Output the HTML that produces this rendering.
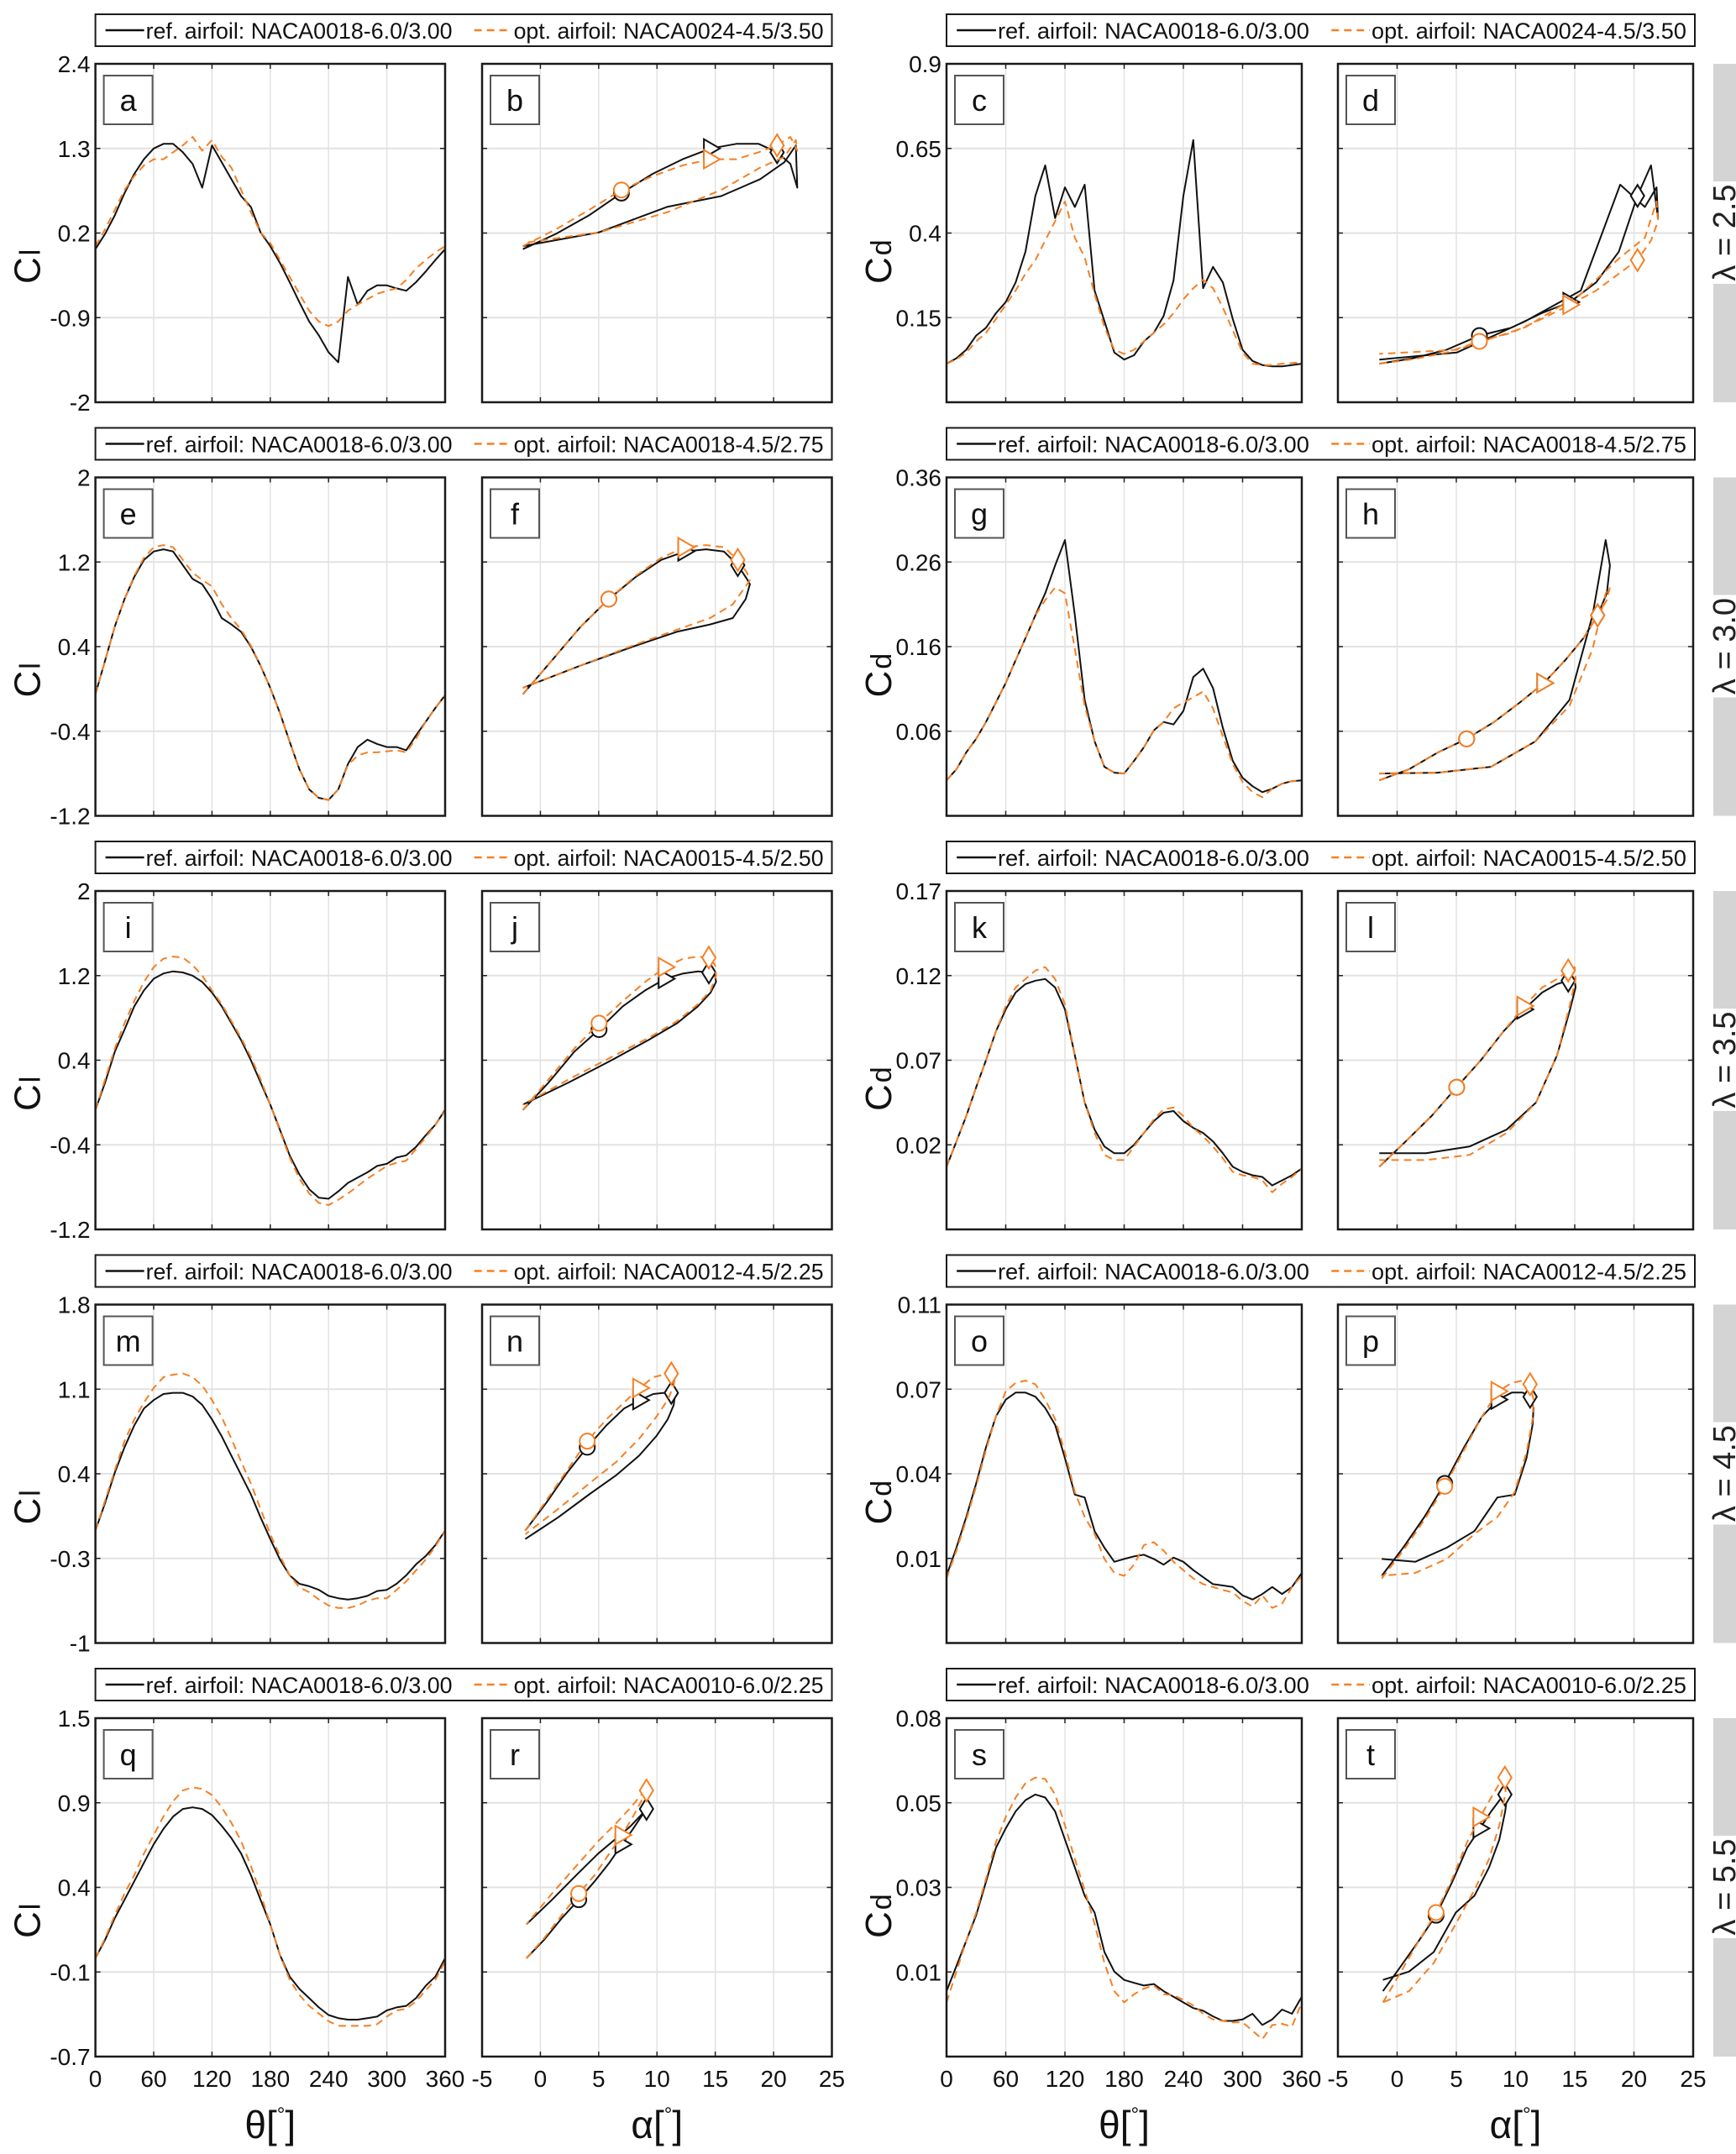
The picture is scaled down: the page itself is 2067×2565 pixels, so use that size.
<!DOCTYPE html>
<html><head><meta charset="utf-8"><style>
html,body{margin:0;padding:0;background:#fff;}
svg{display:block;font-family:"Liberation Sans",Arial,sans-serif;}
</style></head><body>
<svg id="fig" xmlns="http://www.w3.org/2000/svg" width="2067" height="2565" viewBox="0 0 2067 2565"></svg>
<script>
// ---- data ----
const theta = [0,10,20,30,40,50,60,70,80,90,100,110,120,130,140,150,160,170,180,190,200,210,220,230,240,250,260,270,280,290,300,310,320,330,340,350,360];
const optNames = ['NACA0024-4.5/3.50','NACA0018-4.5/2.75','NACA0015-4.5/2.50','NACA0012-4.5/2.25','NACA0010-6.0/2.25'];
const lambdas = ['2.5','3.0','3.5','4.5','5.5'];
const thetaTicks = [0,60,120,180,240,300,360];
const alphaTicks = [-5,0,5,10,15,20,25];
const markerIdx = [3,6,9];

const alpha1 = [-1.5,1.35,4.18,6.95,9.63,12.2,14.6,16.8,18.72,20.3,21.44,22.03,21.91,20.92,18.84,15.51,10.86,5.04,-1.5];
const alpha2 = [-1.5,0.99,3.46,5.87,8.19,10.37,12.4,14.2,15.74,16.93,17.71,17.97,17.61,16.5,14.55,11.69,7.93,3.42,-1.5];
const alpha3 = [-1.5,0.72,2.91,5.03,7.07,8.98,10.72,12.25,13.51,14.45,14.99,15.07,14.6,13.51,11.73,9.25,6.11,2.45,-1.5];
const alpha4 = [-1.3,0.51,2.3,4.02,5.66,7.17,8.53,9.68,10.6,11.23,11.52,11.44,10.92,9.93,8.47,6.53,4.19,1.53,-1.3];
const alpha5 = [-1.2,0.33,1.84,3.29,4.66,5.91,7.01,7.94,8.65,9.1,9.27,9.13,8.63,7.76,6.53,4.96,3.09,1.0,-1.2];

const clRef1 = [-0.01,0.19,0.43,0.72,0.97,1.16,1.30,1.36,1.36,1.25,1.1,0.79,1.34,1.12,0.90,0.68,0.54,0.21,0.03,-0.19,-0.44,-0.70,-0.95,-1.13,-1.35,-1.48,-0.37,-0.73,-0.55,-0.48,-0.48,-0.52,-0.55,-0.44,-0.30,-0.15,-0.01];
const clOpt1 = [0.03,0.25,0.5,0.76,0.94,1.08,1.16,1.16,1.25,1.34,1.45,1.27,1.41,1.19,1.05,0.76,0.47,0.21,0.07,-0.15,-0.37,-0.59,-0.81,-0.95,-1.01,-0.95,-0.81,-0.73,-0.66,-0.59,-0.55,-0.52,-0.41,-0.26,-0.15,-0.05,0.03];
const cdRef1 = [0.014,0.03,0.055,0.097,0.12,0.163,0.196,0.254,0.345,0.51,0.6,0.444,0.535,0.477,0.543,0.23,0.14,0.047,0.026,0.039,0.08,0.105,0.155,0.26,0.51,0.675,0.237,0.30,0.254,0.146,0.055,0.022,0.01,0.006,0.006,0.01,0.014];
const cdOpt1 = [0.014,0.027,0.047,0.08,0.105,0.146,0.188,0.23,0.28,0.32,0.378,0.435,0.493,0.386,0.328,0.22,0.122,0.055,0.043,0.055,0.08,0.105,0.13,0.163,0.204,0.237,0.262,0.237,0.18,0.113,0.047,0.014,0.01,0.01,0.014,0.016,0.018];

const clRef2 = [-0.05,0.27,0.59,0.85,1.06,1.22,1.30,1.32,1.30,1.17,1.04,0.99,0.85,0.67,0.61,0.54,0.40,0.22,0.01,-0.23,-0.50,-0.76,-0.95,-1.03,-1.05,-0.95,-0.71,-0.55,-0.48,-0.52,-0.55,-0.55,-0.58,-0.44,-0.31,-0.18,-0.06];
const clOpt2 = [-0.05,0.27,0.59,0.85,1.07,1.24,1.34,1.36,1.34,1.22,1.10,1.03,0.97,0.80,0.67,0.56,0.41,0.22,0.01,-0.23,-0.50,-0.76,-0.95,-1.03,-1.05,-0.95,-0.72,-0.63,-0.60,-0.60,-0.59,-0.58,-0.60,-0.47,-0.31,-0.18,-0.06];
const cdRef2 = [0.002,0.015,0.035,0.051,0.071,0.094,0.117,0.144,0.17,0.197,0.223,0.256,0.286,0.197,0.097,0.048,0.018,0.011,0.01,0.025,0.041,0.061,0.071,0.068,0.084,0.124,0.134,0.111,0.064,0.025,0.005,-0.005,-0.012,-0.008,-0.002,0.001,0.002];
const cdOpt2 = [0.002,0.015,0.035,0.051,0.071,0.094,0.117,0.144,0.17,0.197,0.215,0.23,0.223,0.157,0.09,0.048,0.018,0.011,0.01,0.025,0.041,0.061,0.071,0.087,0.094,0.1,0.107,0.087,0.054,0.021,0.0,-0.012,-0.018,-0.008,-0.002,0.001,0.002];

const clRef3 = [-0.07,0.19,0.48,0.69,0.91,1.06,1.17,1.22,1.24,1.23,1.20,1.14,1.04,0.91,0.75,0.59,0.40,0.19,-0.02,-0.26,-0.50,-0.68,-0.82,-0.90,-0.91,-0.84,-0.76,-0.71,-0.66,-0.60,-0.58,-0.52,-0.50,-0.42,-0.31,-0.21,-0.07];
const clOpt3 = [-0.07,0.22,0.51,0.75,0.96,1.14,1.28,1.36,1.38,1.37,1.30,1.20,1.06,0.93,0.77,0.61,0.43,0.22,-0.02,-0.27,-0.52,-0.72,-0.86,-0.95,-0.97,-0.92,-0.86,-0.79,-0.72,-0.66,-0.60,-0.57,-0.55,-0.44,-0.33,-0.21,-0.08];
const cdRef3 = [0.007,0.022,0.037,0.054,0.070,0.087,0.10,0.11,0.115,0.117,0.118,0.113,0.10,0.073,0.045,0.029,0.019,0.015,0.015,0.02,0.027,0.034,0.039,0.04,0.034,0.030,0.027,0.022,0.015,0.007,0.004,0.002,0.001,-0.004,-0.001,0.002,0.006];
const cdOpt3 = [0.007,0.022,0.037,0.054,0.070,0.087,0.102,0.113,0.118,0.123,0.125,0.118,0.103,0.073,0.045,0.027,0.014,0.011,0.011,0.019,0.027,0.035,0.041,0.042,0.037,0.030,0.025,0.019,0.012,0.004,0.002,0.001,-0.001,-0.008,-0.003,0.001,0.006];

const clRef4 = [-0.07,0.16,0.41,0.62,0.80,0.94,1.01,1.06,1.07,1.07,1.04,0.97,0.85,0.71,0.55,0.39,0.23,0.04,-0.14,-0.31,-0.44,-0.51,-0.53,-0.56,-0.61,-0.63,-0.64,-0.63,-0.61,-0.57,-0.56,-0.51,-0.44,-0.35,-0.28,-0.19,-0.07];
const clOpt4 = [-0.07,0.18,0.43,0.67,0.85,0.99,1.11,1.20,1.22,1.23,1.20,1.13,1.01,0.87,0.69,0.50,0.32,0.11,-0.10,-0.28,-0.44,-0.54,-0.58,-0.64,-0.69,-0.71,-0.71,-0.69,-0.65,-0.63,-0.63,-0.56,-0.49,-0.40,-0.31,-0.20,-0.07];
const cdRef4 = [0.0058,0.0166,0.0284,0.0413,0.0552,0.067,0.0735,0.0762,0.0762,0.0746,0.0703,0.0638,0.051,0.037,0.0359,0.023,0.0166,0.0112,0.0123,0.0133,0.0139,0.0123,0.0101,0.0128,0.0112,0.008,0.0053,0.0026,0.0021,0.0015,-0.0017,-0.0033,-0.0012,0.0015,-0.0012,0.0015,0.0069];
const cdOpt4 = [0.0048,0.0155,0.0273,0.0402,0.0542,0.067,0.0767,0.0799,0.0808,0.0794,0.0735,0.066,0.0531,0.038,0.0284,0.0219,0.0123,0.0069,0.0058,0.0101,0.0176,0.0187,0.0155,0.0112,0.008,0.0048,0.0026,0.0015,0.0004,-0.0006,-0.0038,-0.006,-0.0017,-0.0065,-0.0049,0.0015,0.0058];

const clRef5 = [-0.06,0.06,0.20,0.32,0.44,0.56,0.68,0.78,0.86,0.91,0.92,0.91,0.87,0.80,0.72,0.62,0.48,0.32,0.16,-0.04,-0.18,-0.26,-0.32,-0.38,-0.43,-0.45,-0.46,-0.46,-0.45,-0.44,-0.40,-0.38,-0.37,-0.32,-0.24,-0.18,-0.06];
const clOpt5 = [-0.06,0.07,0.22,0.36,0.48,0.62,0.74,0.86,0.96,1.03,1.05,1.04,1.00,0.92,0.82,0.70,0.54,0.36,0.16,-0.04,-0.20,-0.30,-0.37,-0.42,-0.47,-0.50,-0.50,-0.50,-0.50,-0.49,-0.44,-0.40,-0.39,-0.34,-0.27,-0.20,-0.08];
const cdRef5 = [0.0074,0.0141,0.0208,0.0276,0.0365,0.0455,0.0507,0.0552,0.0582,0.0597,0.0589,0.0552,0.0477,0.0403,0.0328,0.0283,0.0178,0.0126,0.0104,0.0096,0.0089,0.0093,0.0074,0.0059,0.0044,0.0029,0.0022,0.0007,-0.0005,-0.0005,-0.0001,0.0014,-0.0016,-0.0001,0.0025,0.0014,0.0059];
const cdOpt5 = [0.0044,0.0126,0.0208,0.0283,0.0373,0.047,0.0537,0.0589,0.0627,0.0642,0.0638,0.0597,0.0515,0.0425,0.0343,0.0253,0.0149,0.0074,0.0044,0.0066,0.0081,0.0089,0.0066,0.0063,0.0051,0.0036,0.0014,-0.0001,-0.0005,-0.0009,-0.0009,-0.0031,-0.0054,-0.0016,-0.0013,-0.002,0.0044];

const clRange1 = [-2,2.4], clTicks1 = [-2,-0.9,0.2,1.3,2.4], clLabels1 = ['-2','-0.9','0.2','1.3','2.4'];
const cdRange1 = [-0.1,0.9], cdTicks1 = [0.15,0.4,0.65,0.9], cdLabels1 = ['0.15','0.4','0.65','0.9'];
const clRange2 = [-1.2,2], clTicks2 = [-1.2,-0.4,0.4,1.2,2], clLabels2 = ['-1.2','-0.4','0.4','1.2','2'];
const cdRange2 = [-0.04,0.36], cdTicks2 = [0.06,0.16,0.26,0.36], cdLabels2 = ['0.06','0.16','0.26','0.36'];
const clRange3 = [-1.2,2], clTicks3 = [-1.2,-0.4,0.4,1.2,2], clLabels3 = ['-1.2','-0.4','0.4','1.2','2'];
const cdRange3 = [-0.03,0.17], cdTicks3 = [0.02,0.07,0.12,0.17], cdLabels3 = ['0.02','0.07','0.12','0.17'];
const clRange4 = [-1,1.8], clTicks4 = [-1,-0.3,0.4,1.1,1.8], clLabels4 = ['-1','-0.3','0.4','1.1','1.8'];
const cdRange4 = [-0.02,0.11], cdTicks4 = [0.0125,0.045,0.0775,0.11], cdLabels4 = ['0.01','0.04','0.07','0.11'];
const clRange5 = [-0.7,1.5], clTicks5 = [-0.7,-0.15,0.4,0.95,1.5], clLabels5 = ['-0.7','-0.1','0.4','0.9','1.5'];
const cdRange5 = [-0.01,0.08], cdTicks5 = [0.0125,0.035,0.0575,0.08], cdLabels5 = ['0.01','0.03','0.05','0.08'];

const rowsData = [
 {alpha:alpha1, clR:clRef1, clO:clOpt1, cdR:cdRef1, cdO:cdOpt1, clRange:clRange1, clTicks:clTicks1, clLabels:clLabels1, cdRange:cdRange1, cdTicks:cdTicks1, cdLabels:cdLabels1},
 {alpha:alpha2, clR:clRef2, clO:clOpt2, cdR:cdRef2, cdO:cdOpt2, clRange:clRange2, clTicks:clTicks2, clLabels:clLabels2, cdRange:cdRange2, cdTicks:cdTicks2, cdLabels:cdLabels2},
 {alpha:alpha3, clR:clRef3, clO:clOpt3, cdR:cdRef3, cdO:cdOpt3, clRange:clRange3, clTicks:clTicks3, clLabels:clLabels3, cdRange:cdRange3, cdTicks:cdTicks3, cdLabels:cdLabels3},
 {alpha:alpha4, clR:clRef4, clO:clOpt4, cdR:cdRef4, cdO:cdOpt4, clRange:clRange4, clTicks:clTicks4, clLabels:clLabels4, cdRange:cdRange4, cdTicks:cdTicks4, cdLabels:cdLabels4},
 {alpha:alpha5, clR:clRef5, clO:clOpt5, cdR:cdRef5, cdO:cdOpt5, clRange:clRange5, clTicks:clTicks5, clLabels:clLabels5, cdRange:cdRange5, cdTicks:cdTicks5, cdLabels:cdLabels5}
];

// ---- layout ----
const NS = 'http://www.w3.org/2000/svg';
const svg = document.getElementById('fig');
const ROW_TOP = 76, ROW_STEP = 492.5, PH = 403;
const COLS = [[113.6,530],[574,990.5],[1127,1550],[1593,2016]];
const ORANGE = '#f58025';
const letters = 'abcdefghijklmnopqrst';

function mk(tag, attrs, name, parent){
  const el = document.createElementNS(NS, tag);
  for (const k in attrs) el.setAttribute(k, attrs[k]);
  
  
  (parent || svg).appendChild(el);
  return el;
}
function txt(x, y, s, size, anchor, name, parent, extra){
  const a = Object.assign({x:x, y:y, 'font-size':size, 'text-anchor':anchor||'start', fill:'#111'}, extra||{});
  const t = mk('text', a, name, parent);
  t.textContent = s;
  return t;
}

const defs = mk('defs', {}, 'defs');

function linScale(d0, d1, r0, r1){ return v => r0 + (v - d0) / (d1 - d0) * (r1 - r0); }

function drawMarker(g, kind, x, y, color, name){
  let el;
  if (kind === 0) el = mk('circle', {cx:x, cy:y, r:9, fill:'#fff', stroke:color, 'stroke-width':2}, name, g);
  else if (kind === 1) el = mk('polygon', {points:`${x-8},${y-11} ${x+11},${y} ${x-8},${y+11}`, fill:'#fff', stroke:color, 'stroke-width':2}, name, g);
  else el = mk('polygon', {points:`${x},${y-13} ${x+8},${y} ${x},${y+13} ${x-8},${y}`, fill:'#fff', stroke:color, 'stroke-width':2}, name, g);
  return el;
}

function panel(ri, ci, xs, xRange, xTicks, ys, yRange, yTicks, yLabels, series, isAlpha, showYLabels){
  const [x0, x1] = COLS[ci];
  const y0 = ROW_TOP + ri * ROW_STEP, y1 = y0 + PH;
  const sx = linScale(xRange[0], xRange[1], x0, x1);
  const sy = linScale(yRange[0], yRange[1], y1, y0);
  const letter = letters[ri*4 + ci];
  const g = mk('g', {}, 'panel-' + letter);
  mk('rect', {x:x0, y:y0, width:x1-x0, height:PH, fill:'#fff'}, 'plot-area', g);
  xTicks.forEach(t => {
    if (t > xRange[0] && t < xRange[1]) {
      mk('line', {x1:sx(t), x2:sx(t), y1:y0, y2:y1, stroke:'#e2e2e2', 'stroke-width':1.5}, 'x-gridline', g);
    }
    mk('line', {x1:sx(t), x2:sx(t), y1:y1, y2:y1-6, stroke:'#222', 'stroke-width':1.5}, 'x-tick', g);
    mk('line', {x1:sx(t), x2:sx(t), y1:y0, y2:y0+6, stroke:'#222', 'stroke-width':1.5}, 'x-tick', g);
  });
  yTicks.forEach(t => {
    if (t > yRange[0] && t < yRange[1]) {
      mk('line', {x1:x0, x2:x1, y1:sy(t), y2:sy(t), stroke:'#e2e2e2', 'stroke-width':2}, 'y-gridline', g);
    }
    mk('line', {x1:x0, x2:x0+6, y1:sy(t), y2:sy(t), stroke:'#222', 'stroke-width':1.5}, 'y-tick', g);
    mk('line', {x1:x1, x2:x1-6, y1:sy(t), y2:sy(t), stroke:'#222', 'stroke-width':1.5}, 'y-tick', g);
  });
  if (showYLabels) {
    yTicks.forEach((t, i) => {
      txt(x0 - 6, sy(t) + 10, yLabels[i], 28, 'end', 'y-tick-label', g);
    });
  }
  const cid = 'clip-' + letter;
  const cp = mk('clipPath', {id:cid}, 'clip', defs);
  mk('rect', {x:x0, y:y0, width:x1-x0, height:PH}, 'clip-rect', cp);
  const sg = mk('g', {'clip-path':`url(#${cid})`}, 'series-group', g);
  series.forEach(s => {
    const n = xs.length;
    let d = '';
    for (let i = 0; i < n; i++) d += (i ? 'L' : 'M') + sx(xs[i]).toFixed(1) + ',' + sy(s.v[i]).toFixed(1);
    mk('path', {d:d, fill:'none', stroke:s.color, 'stroke-width':2, 'stroke-dasharray':s.dash||'none', 'stroke-linejoin':'round'}, s.name, sg);
    if (isAlpha) {
      markerIdx.forEach((mi, k) => drawMarker(sg, k, sx(xs[mi]), sy(s.v[mi]), s.color, s.name + '-marker'));
    }
  });
  mk('rect', {x:x0, y:y0, width:x1-x0, height:PH, fill:'none', stroke:'#1a1a1a', 'stroke-width':2.5}, 'axes-frame', g);
  mk('rect', {x:x0+10, y:y0+14, width:58, height:58, fill:'#fff', stroke:'#555', 'stroke-width':2}, 'panel-label-box', g);
  txt(x0+39, y0+56, letter, 36, 'middle', 'panel-label', g);
  return {sx:sx, x0:x0, x1:x1, y0:y0, y1:y1};
}

rowsData.forEach((r, ri) => {
  const y0 = ROW_TOP + ri * ROW_STEP;
  const nA = r.alpha.length;
  const clRa = r.clR.slice(0, nA), clOa = r.clO.slice(0, nA), cdRa = r.cdR.slice(0, nA), cdOa = r.cdO.slice(0, nA);
  const pa = panel(ri, 0, theta, [0,360], thetaTicks, null, r.clRange, r.clTicks, r.clLabels,
    [{v:r.clR, color:'#111', name:'cl-ref-line'}, {v:r.clO, color:ORANGE, dash:'9,6', name:'cl-opt-line'}], false, true);
  const pb = panel(ri, 1, r.alpha, [-5,25], alphaTicks, null, r.clRange, r.clTicks, r.clLabels,
    [{v:clRa, color:'#111', name:'cl-alpha-ref-line'}, {v:clOa, color:ORANGE, dash:'9,6', name:'cl-alpha-opt-line'}], true, false);
  const pc = panel(ri, 2, theta, [0,360], thetaTicks, null, r.cdRange, r.cdTicks, r.cdLabels,
    [{v:r.cdR, color:'#111', name:'cd-ref-line'}, {v:r.cdO, color:ORANGE, dash:'9,6', name:'cd-opt-line'}], false, true);
  const pd = panel(ri, 3, r.alpha, [-5,25], alphaTicks, null, r.cdRange, r.cdTicks, r.cdLabels,
    [{v:cdRa, color:'#111', name:'cd-alpha-ref-line'}, {v:cdOa, color:ORANGE, dash:'9,6', name:'cd-alpha-opt-line'}], true, false);

  [[COLS[0][0], 'l', 'cl-axis-title'], [COLS[2][0], 'd', 'cd-axis-title']].forEach(([px, sub, nm]) => {
    const t = mk('text', {transform:`translate(${px-66},${y0+262}) rotate(-90)`, 'font-size':44, fill:'#111'}, nm);
    t.textContent = 'C';
    const ts = mk('tspan', {'font-size':34, dx:2}, nm + '-subscript', t);
    ts.textContent = sub;
  });

  [[113.6, 990.5], [1127, 2018]].forEach(([lx0, lx1], li) => {
    const ly = 17 + ri * ROW_STEP;
    const lg = mk('g', {}, 'legend');
    mk('rect', {x:lx0, y:ly, width:lx1-lx0, height:38, fill:'#fff', stroke:'#1a1a1a', 'stroke-width':2}, 'legend-box', lg);
    const sc = (lx1 - lx0) / (990.5 - 113.6);
    const bx = v => lx0 + v * sc;
    mk('line', {x1:bx(12), x2:bx(58), y1:ly+19, y2:ly+19, stroke:'#111', 'stroke-width':2.5}, 'legend-ref-swatch', lg);
    txt(bx(60), ly+29, 'ref. airfoil: NACA0018-6.0/3.00', 27, 'start', 'legend-ref-label', lg, {textLength:(365*sc).toFixed(1), lengthAdjust:'spacingAndGlyphs'});
    mk('line', {x1:bx(451), x2:bx(496), y1:ly+19, y2:ly+19, stroke:ORANGE, 'stroke-width':2.5, 'stroke-dasharray':'9,6'}, 'legend-opt-swatch', lg);
    txt(bx(498), ly+29, 'opt. airfoil: ' + optNames[ri], 27, 'start', 'legend-opt-label', lg, {textLength:(369*sc).toFixed(1), lengthAdjust:'spacingAndGlyphs'});
  });

  const sg = mk('g', {}, 'lambda-strip');
  mk('rect', {x:2040, y:y0, width:27, height:PH, fill:'#d4d4d4'}, 'lambda-strip-bg', sg);
  mk('rect', {x:2040, y:y0+140, width:27, height:122, fill:'#fff'}, 'lambda-strip-gap', sg);
  const lt = mk('text', {transform:`translate(2066,${y0+201}) rotate(-90)`, 'font-size':38, 'text-anchor':'middle', fill:'#222'}, 'lambda-label');
  lt.textContent = 'λ = ' + lambdas[ri];

  if (ri === 4) {
    [[pa, thetaTicks, 'theta-tick-label'], [pc, thetaTicks, 'theta-tick-label'], [pb, alphaTicks, 'alpha-tick-label'], [pd, alphaTicks, 'alpha-tick-label']].forEach(([p, ticks, nm]) => {
      ticks.forEach(t => txt(p.sx(t), p.y1 + 36, String(t), 28, 'middle', nm));
    });
    [[pa, 'θ', 'theta-axis-title'], [pc, 'θ', 'theta-axis-title'], [pb, 'α', 'alpha-axis-title'], [pd, 'α', 'alpha-axis-title']].forEach(([p, sym, nm]) => {
      const t = mk('text', {x:(p.x0+p.x1)/2, y:2546, 'font-size':46, 'text-anchor':'middle', fill:'#111'}, nm);
      t.textContent = sym + '[';
      const d = mk('tspan', {'font-size':24, dy:-20}, nm + '-degree', t);
      d.textContent = '°';
      const b = mk('tspan', {dy:20}, nm + '-bracket', t);
      b.textContent = ']';
    });
  }
});
</script>
</body></html>
